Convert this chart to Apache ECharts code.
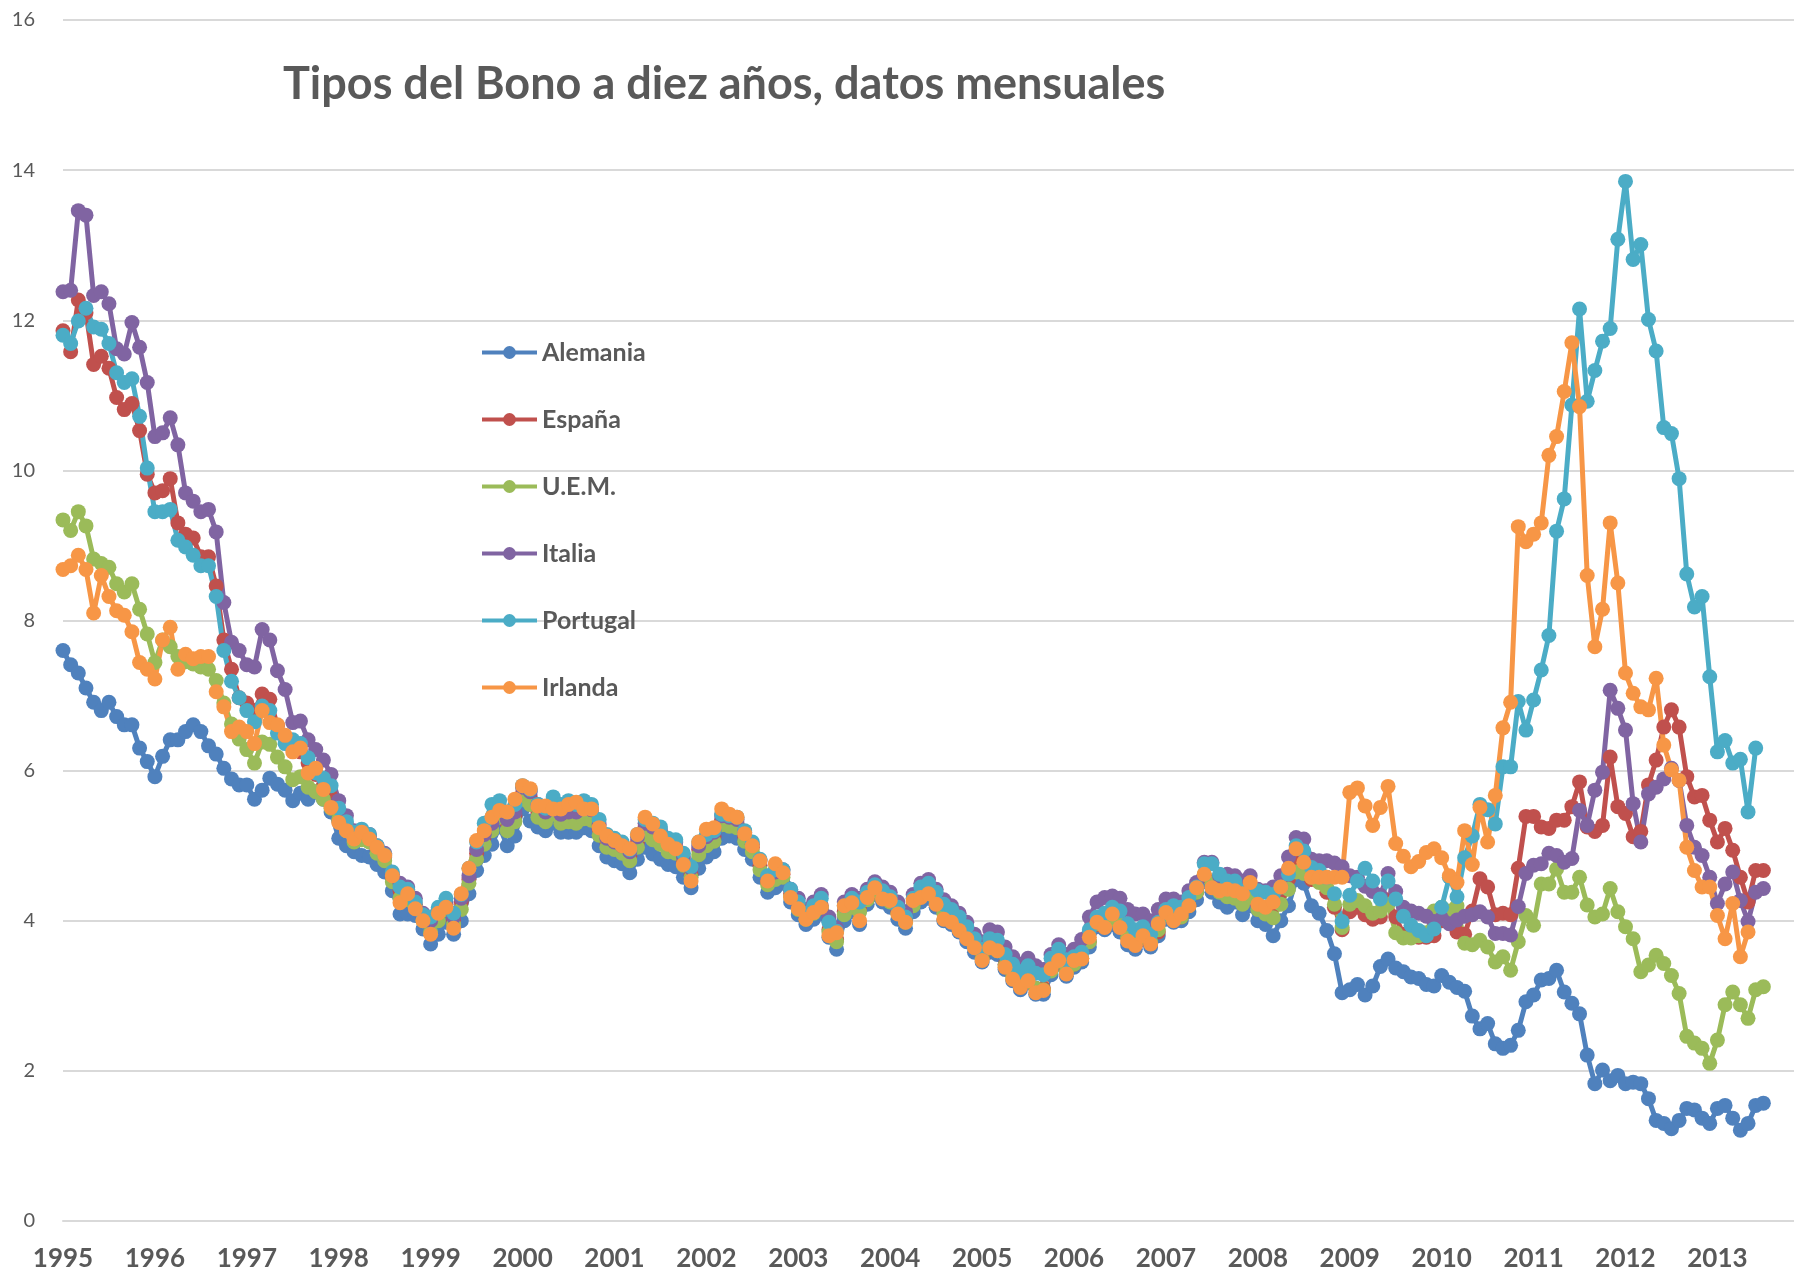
<!DOCTYPE html>
<html>
<head>
<meta charset="utf-8">
<title>Tipos del Bono a diez años</title>
<script src="https://cdn.jsdelivr.net/npm/echarts/dist/echarts.min.js"></script>
<style>
  html, body { margin: 0; padding: 0; background: #fff; }
  #main { width: 1794px; height: 1273px; }
</style>
</head>
<body>
<div id="main"></div>
<script>
// year labels of the horizontal axis (one label every 12 months)
const years = ['1995', '1996', '1997', '1998', '1999', '2000', '2001', '2002', '2003', '2004',
  '2005', '2006', '2007', '2008', '2009', '2010', '2011', '2012', '2013'];

const seriesNames = ['Alemania', 'España', 'U.E.M.', 'Italia', 'Portugal', 'Irlanda'];
const seriesColors = ['#4f81bd', '#c0504d', '#9bbb59', '#8064a2', '#4bacc6', '#f79646'];

// monthly values, Jan 1995 onwards (one row per year)
const alemania = [
  7.60, 7.41, 7.30, 7.10, 6.91, 6.80, 6.91, 6.72, 6.61, 6.61, 6.30, 6.12,
  5.92, 6.19, 6.41, 6.41, 6.52, 6.61, 6.52, 6.33, 6.22, 6.03, 5.89, 5.81,
  5.81, 5.62, 5.74, 5.90, 5.82, 5.74, 5.60, 5.70, 5.62, 5.72, 5.62, 5.45,
  5.10, 5.00, 4.92, 4.87, 4.85, 4.75, 4.65, 4.40, 4.09, 4.09, 4.07, 3.89,
  3.69, 3.82, 3.98, 3.82, 4.00, 4.36, 4.67, 4.87, 5.02, 5.25, 5.00, 5.13,
  5.49, 5.33, 5.25, 5.20, 5.30, 5.18, 5.18, 5.18, 5.24, 5.20, 5.00, 4.85,
  4.80, 4.76, 4.64, 4.82, 4.98, 4.89, 4.82, 4.75, 4.72, 4.58, 4.44, 4.70,
  4.85, 4.92, 5.10, 5.13, 5.10, 4.95, 4.82, 4.58, 4.38, 4.44, 4.50, 4.25,
  4.08, 3.95, 4.02, 4.10, 3.78, 3.62, 4.00, 4.12, 3.95, 4.22, 4.35, 4.25,
  4.18, 4.02, 3.90, 4.12, 4.25, 4.30, 4.18, 4.00, 3.95, 3.85, 3.72, 3.58,
  3.45, 3.58, 3.55, 3.35, 3.20, 3.08, 3.18, 3.02, 3.02, 3.28, 3.42, 3.26,
  3.38, 3.45, 3.65, 3.92, 3.88, 3.95, 3.85, 3.68, 3.62, 3.75, 3.65, 3.80,
  4.02, 3.98, 4.00, 4.12, 4.28, 4.52, 4.38, 4.25, 4.18, 4.25, 4.08, 4.20,
  4.00, 3.95, 3.80, 4.00, 4.20, 4.55, 4.50, 4.20, 4.10, 3.87, 3.56, 3.04,
  3.08, 3.15, 3.01, 3.13, 3.39, 3.49, 3.37, 3.32, 3.25, 3.23, 3.15, 3.13,
  3.27, 3.18, 3.11, 3.06, 2.73, 2.56, 2.63, 2.36, 2.30, 2.34, 2.54, 2.92,
  3.01, 3.21, 3.23, 3.34, 3.05, 2.90, 2.76, 2.21, 1.83, 2.01, 1.87, 1.94,
  1.83, 1.85, 1.83, 1.63, 1.34, 1.30, 1.23, 1.34, 1.50, 1.48, 1.37, 1.30,
  1.50, 1.54, 1.37, 1.21, 1.30, 1.54, 1.57
];

const espana = [
  11.86, 11.58, 12.27, 12.10, 11.41, 11.52, 11.36, 10.97, 10.81, 10.89, 10.53, 9.95,
  9.70, 9.73, 9.89, 9.30, 9.15, 9.10, 8.85, 8.85, 8.46, 7.74, 7.35, 6.97,
  6.90, 6.80, 7.02, 6.95, 6.60, 6.45, 6.30, 6.25, 6.10, 5.95, 5.80, 5.65,
  5.45, 5.28, 5.12, 5.15, 5.12, 4.95, 4.85, 4.58, 4.40, 4.35, 4.22, 4.05,
  3.95, 4.10, 4.22, 4.00, 4.25, 4.55, 4.90, 5.12, 5.30, 5.45, 5.30, 5.40,
  5.70, 5.65, 5.45, 5.40, 5.50, 5.38, 5.40, 5.38, 5.45, 5.42, 5.22, 5.05,
  5.00, 4.95, 4.86, 5.05, 5.25, 5.18, 5.12, 5.00, 4.98, 4.80, 4.62, 4.95,
  5.05, 5.12, 5.35, 5.32, 5.30, 5.12, 4.98, 4.74, 4.52, 4.60, 4.62, 4.36,
  4.18, 4.05, 4.12, 4.20, 3.88, 3.75, 4.12, 4.22, 4.15, 4.30, 4.42, 4.32,
  4.26, 4.12, 4.00, 4.22, 4.35, 4.40, 4.28, 4.12, 4.05, 3.95, 3.82, 3.68,
  3.52, 3.66, 3.62, 3.42, 3.28, 3.15, 3.25, 3.10, 3.10, 3.35, 3.48, 3.34,
  3.42, 3.50, 3.72, 3.95, 3.95, 4.02, 3.95, 3.78, 3.68, 3.80, 3.70, 3.85,
  4.08, 4.05, 4.05, 4.20, 4.38, 4.60, 4.52, 4.42, 4.38, 4.40, 4.32, 4.40,
  4.22, 4.18, 4.20, 4.38, 4.55, 4.82, 4.78, 4.55, 4.52, 4.38, 4.18, 3.88,
  4.12, 4.18, 4.08, 4.02, 4.05, 4.28, 4.05, 3.82, 3.80, 3.78, 3.78, 3.80,
  4.00, 4.00, 3.85, 3.82, 4.13, 4.56, 4.45, 4.08, 4.10, 4.08, 4.70, 5.39,
  5.39, 5.25, 5.23, 5.34, 5.34, 5.52, 5.85, 5.25, 5.19, 5.27, 6.18, 5.52,
  5.43, 5.12, 5.19, 5.81, 6.14, 6.58, 6.81, 6.58, 5.92, 5.65, 5.67, 5.34,
  5.05, 5.23, 4.94, 4.58, 4.25, 4.67, 4.67
];

const uem = [
  9.34, 9.20, 9.45, 9.26, 8.82, 8.76, 8.71, 8.49, 8.38, 8.49, 8.15, 7.82,
  7.44, 7.74, 7.65, 7.52, 7.45, 7.42, 7.38, 7.35, 7.20, 6.90, 6.62, 6.42,
  6.28, 6.10, 6.38, 6.35, 6.18, 6.05, 5.88, 5.92, 5.78, 5.72, 5.62, 5.50,
  5.35, 5.20, 5.05, 5.08, 5.05, 4.90, 4.80, 4.52, 4.30, 4.28, 4.18, 4.00,
  3.85, 4.00, 4.15, 3.95, 4.15, 4.50, 4.82, 5.02, 5.20, 5.38, 5.20, 5.32,
  5.62, 5.55, 5.38, 5.32, 5.42, 5.30, 5.32, 5.30, 5.36, 5.34, 5.14, 4.98,
  4.95, 4.90, 4.80, 4.98, 5.15, 5.08, 5.02, 4.92, 4.90, 4.74, 4.58, 4.88,
  5.00, 5.06, 5.28, 5.26, 5.24, 5.06, 4.92, 4.68, 4.48, 4.55, 4.58, 4.32,
  4.15, 4.02, 4.10, 4.18, 3.85, 3.72, 4.08, 4.18, 4.12, 4.28, 4.40, 4.30,
  4.25, 4.10, 3.98, 4.20, 4.32, 4.38, 4.25, 4.10, 4.03, 3.93, 3.80, 3.66,
  3.50, 3.64, 3.60, 3.40, 3.26, 3.14, 3.23, 3.10, 3.08, 3.33, 3.46, 3.32,
  3.42, 3.50, 3.72, 3.96, 3.95, 4.02, 3.95, 3.78, 3.70, 3.80, 3.72, 3.88,
  4.08, 4.05, 4.05, 4.20, 4.38, 4.62, 4.50, 4.38, 4.32, 4.30, 4.22, 4.32,
  4.15, 4.09, 4.04, 4.22, 4.42, 4.65, 4.63, 4.58, 4.51, 4.44, 4.22, 3.91,
  4.22, 4.27, 4.20, 4.10, 4.13, 4.22, 3.84, 3.77, 3.77, 3.80, 3.84, 4.13,
  4.18, 4.13, 4.20, 3.70, 3.68, 3.74, 3.65, 3.45, 3.52, 3.34, 3.72, 4.07,
  3.94, 4.49, 4.49, 4.69, 4.38, 4.38, 4.58, 4.21, 4.05, 4.09, 4.43, 4.12,
  3.92, 3.76, 3.32, 3.41, 3.54, 3.43, 3.27, 3.03, 2.46, 2.37, 2.30, 2.10,
  2.41, 2.88, 3.05, 2.88, 2.70, 3.08, 3.12
];

const italia = [
  12.38, 12.40, 13.46, 13.40, 12.33, 12.38, 12.22, 11.62, 11.55, 11.97, 11.64, 11.17,
  10.45, 10.50, 10.70, 10.34, 9.70, 9.59, 9.45, 9.48, 9.18, 8.24, 7.71, 7.60,
  7.41, 7.38, 7.88, 7.74, 7.33, 7.08, 6.64, 6.66, 6.41, 6.28, 6.14, 5.95,
  5.60, 5.40, 5.20, 5.20, 5.15, 5.00, 4.90, 4.62, 4.50, 4.45, 4.30, 4.10,
  4.00, 4.15, 4.25, 4.05, 4.30, 4.60, 4.95, 5.15, 5.30, 5.50, 5.35, 5.45,
  5.78, 5.72, 5.55, 5.45, 5.55, 5.42, 5.45, 5.45, 5.50, 5.48, 5.28, 5.10,
  5.05, 5.00, 4.92, 5.12, 5.30, 5.25, 5.20, 5.08, 5.05, 4.85, 4.70, 5.00,
  5.12, 5.18, 5.40, 5.38, 5.35, 5.18, 5.02, 4.80, 4.58, 4.65, 4.68, 4.42,
  4.30, 4.15, 4.25, 4.35, 4.05, 3.90, 4.25, 4.35, 4.30, 4.42, 4.52, 4.45,
  4.38, 4.25, 4.12, 4.35, 4.50, 4.55, 4.42, 4.28, 4.20, 4.10, 3.98, 3.82,
  3.72, 3.88, 3.85, 3.65, 3.52, 3.42, 3.50, 3.40, 3.35, 3.55, 3.68, 3.55,
  3.62, 3.75, 4.05, 4.25, 4.31, 4.33, 4.30, 4.15, 4.09, 4.09, 4.00, 4.15,
  4.29, 4.29, 4.25, 4.40, 4.51, 4.78, 4.78, 4.60, 4.62, 4.60, 4.53, 4.60,
  4.42, 4.40, 4.45, 4.60, 4.85, 5.11, 5.09, 4.82, 4.80, 4.80, 4.77, 4.72,
  4.60, 4.58, 4.46, 4.39, 4.34, 4.63, 4.39, 4.18, 4.13, 4.10, 4.06, 3.99,
  4.03, 3.96, 4.01, 4.06, 4.08, 4.12, 4.05, 3.83, 3.83, 3.81, 4.19, 4.63,
  4.74, 4.76, 4.90, 4.87, 4.78, 4.83, 5.47, 5.27, 5.74, 5.98, 7.07, 6.83,
  6.54, 5.56, 5.05, 5.69, 5.78, 5.89, 6.03, 5.87, 5.27, 4.98, 4.87, 4.58,
  4.23, 4.49, 4.65, 4.27, 3.99, 4.38, 4.43
];

const portugal = [
  11.80, 11.69, 11.99, 12.16, 11.91, 11.88, 11.69, 11.30, 11.17, 11.22, 10.72, 10.03,
  9.45, 9.45, 9.48, 9.07, 8.98, 8.87, 8.73, 8.73, 8.32, 7.60, 7.19, 6.97,
  6.80, 6.65, 6.86, 6.80, 6.50, 6.36, 6.41, 6.36, 6.17, 5.97, 5.90, 5.80,
  5.50, 5.32, 5.18, 5.22, 5.15, 5.00, 4.88, 4.65, 4.45, 4.42, 4.25, 4.08,
  4.05, 4.18, 4.30, 4.10, 4.35, 4.70, 5.05, 5.30, 5.55, 5.60, 5.45, 5.55,
  5.80, 5.75, 5.55, 5.50, 5.65, 5.55, 5.60, 5.55, 5.60, 5.55, 5.35, 5.15,
  5.10, 5.05, 4.95, 5.15, 5.35, 5.30, 5.25, 5.10, 5.08, 4.90, 4.72, 5.05,
  5.15, 5.20, 5.42, 5.40, 5.38, 5.20, 5.05, 4.82, 4.60, 4.68, 4.68, 4.42,
  4.25, 4.10, 4.20, 4.30, 3.98, 3.86, 4.20, 4.30, 4.25, 4.38, 4.48, 4.40,
  4.32, 4.18, 4.05, 4.30, 4.45, 4.50, 4.38, 4.22, 4.15, 4.05, 3.92, 3.76,
  3.62, 3.76, 3.74, 3.55, 3.42, 3.32, 3.40, 3.30, 3.28, 3.50, 3.62, 3.48,
  3.52, 3.58, 3.88, 4.05, 4.10, 4.18, 4.13, 3.96, 3.88, 3.92, 3.82, 3.98,
  4.15, 4.20, 4.18, 4.31, 4.45, 4.76, 4.76, 4.62, 4.53, 4.53, 4.40, 4.48,
  4.40, 4.38, 4.35, 4.45, 4.62, 5.00, 4.93, 4.71, 4.67, 4.58, 4.36, 3.99,
  4.34, 4.53, 4.70, 4.53, 4.29, 4.53, 4.29, 4.06, 3.94, 3.87, 3.80, 3.89,
  4.18, 4.58, 4.32, 4.84, 5.13, 5.55, 5.48, 5.29, 6.05, 6.05, 6.92, 6.54,
  6.94, 7.34, 7.80, 9.19, 9.62, 10.87, 12.15, 10.92, 11.33, 11.72, 11.89, 13.08,
  13.85, 12.81, 13.01, 12.01, 11.59, 10.57, 10.49, 9.89, 8.62, 8.18, 8.32, 7.25,
  6.25, 6.40, 6.10, 6.15, 5.45, 6.30
];

const irlanda = [
  8.68, 8.73, 8.87, 8.68, 8.10, 8.60, 8.32, 8.13, 8.07, 7.85, 7.44, 7.35,
  7.22, 7.74, 7.91, 7.35, 7.55, 7.49, 7.52, 7.52, 7.05, 6.85, 6.52, 6.58,
  6.52, 6.36, 6.80, 6.64, 6.61, 6.47, 6.25, 6.30, 5.97, 6.03, 5.75, 5.51,
  5.31, 5.20, 5.09, 5.18, 5.09, 4.98, 4.87, 4.60, 4.24, 4.36, 4.16, 4.00,
  3.82, 4.10, 4.18, 3.90, 4.36, 4.70, 5.07, 5.20, 5.38, 5.47, 5.45, 5.62,
  5.80, 5.76, 5.53, 5.53, 5.49, 5.49, 5.55, 5.58, 5.49, 5.49, 5.24, 5.13,
  5.07, 5.00, 4.96, 5.15, 5.38, 5.29, 5.13, 5.02, 4.96, 4.75, 4.53, 5.05,
  5.22, 5.24, 5.49, 5.42, 5.38, 5.16, 5.00, 4.80, 4.53, 4.76, 4.64, 4.31,
  4.16, 4.02, 4.11, 4.18, 3.80, 3.84, 4.20, 4.24, 4.00, 4.31, 4.44, 4.29,
  4.27, 4.09, 3.98, 4.27, 4.31, 4.36, 4.22, 4.02, 3.98, 3.87, 3.76, 3.64,
  3.47, 3.64, 3.60, 3.38, 3.22, 3.11, 3.20, 3.04, 3.07, 3.36, 3.47, 3.29,
  3.47, 3.49, 3.78, 3.98, 3.91, 4.09, 3.91, 3.73, 3.67, 3.80, 3.69, 3.96,
  4.11, 4.00, 4.09, 4.20, 4.44, 4.62, 4.44, 4.40, 4.42, 4.40, 4.36, 4.51,
  4.22, 4.18, 4.25, 4.45, 4.70, 4.96, 4.78, 4.58, 4.58, 4.58, 4.58, 4.58,
  5.71, 5.77, 5.53, 5.27, 5.51, 5.79, 5.03, 4.86, 4.72, 4.79, 4.91, 4.96,
  4.84, 4.60, 4.51, 5.20, 4.75, 5.51, 5.05, 5.67, 6.57, 6.91, 9.25, 9.05,
  9.15, 9.30, 10.20, 10.45, 11.05, 11.70, 10.85, 8.60, 7.65, 8.15, 9.30, 8.50,
  7.30, 7.03, 6.85, 6.81, 7.23, 6.34, 6.01, 5.87, 4.98, 4.67, 4.45, 4.45,
  4.07, 3.76, 4.23, 3.52, 3.85
];

// monthly categories; the axis runs a few empty months past the data, as in the original
const months = [];
years.forEach(y => {
  for (let m = 1; m <= 12; m++) months.push(y + '-' + String(m).padStart(2, '0'));
});
months.length = 227;

const chartDom = document.getElementById('main');
const myChart = echarts.init(chartDom, null, { renderer: 'canvas' });

const FONT = 'Lato, "Open Sans", sans-serif';
const GREY = '#595959';

const allData = [alemania, espana, uem, italia, portugal, irlanda];

myChart.setOption({
  animation: false,
  backgroundColor: '#fff',
  title: {
    text: 'Tipos del Bono a diez años, datos mensuales',
    left: 278,
    top: 57,
    textStyle: { fontFamily: FONT, fontSize: 45, fontWeight: 'bold', color: GREY }
  },
  legend: {
    orient: 'vertical',
    left: 480,
    top: 340,
    padding: 0,
    itemGap: 42,
    itemWidth: 55,
    itemHeight: 16,
    data: seriesNames,
    lineStyle: { width: 4 },
    textStyle: { fontFamily: FONT, fontSize: 25, fontWeight: 'bold', color: GREY }
  },
  grid: { left: 63, right: 0, top: 20, bottom: 52, containLabel: false },
  xAxis: {
    type: 'category',
    data: months,
    boundaryGap: false,
    axisLine: { show: true, lineStyle: { color: '#d9d9d9', width: 2 } },
    axisTick: { show: false },
    splitLine: { show: false },
    axisLabel: {
      interval: 11,
      margin: 25,
      fontFamily: FONT,
      fontSize: 26,
      fontWeight: 'bold',
      color: GREY,
      formatter: v => (v.endsWith('-01') ? v.slice(0, 4) : '')
    }
  },
  yAxis: {
    type: 'value',
    min: 0,
    max: 16,
    interval: 2,
    axisLine: { show: false },
    axisTick: { show: false },
    splitLine: { lineStyle: { color: '#d9d9d9', width: 2 } },
    axisLabel: { margin: 28, fontFamily: FONT, fontSize: 20, color: GREY }
  },
  series: seriesNames.map((name, i) => ({
    name: name,
    type: 'line',
    data: allData[i],
    symbol: 'circle',
    symbolSize: 15,
    showAllSymbol: true,
    connectNulls: false,
    itemStyle: { color: seriesColors[i] },
    lineStyle: { color: seriesColors[i], width: 5 },
    emphasis: { disabled: true }
  }))
});
</script>
</body>
</html>
